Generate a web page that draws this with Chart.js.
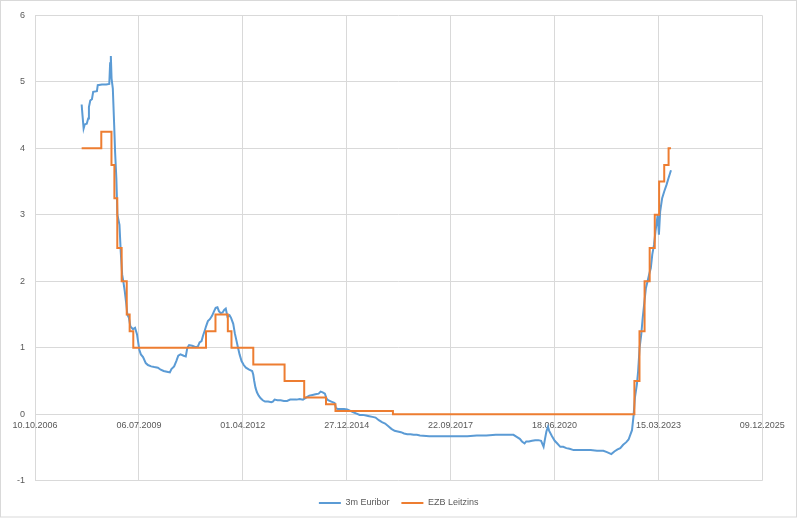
<!DOCTYPE html>
<html>
<head>
<meta charset="utf-8">
<title>3m Euribor und EZB Leitzins</title>
<script src="https://cdn.jsdelivr.net/npm/chart.js@4/dist/chart.umd.min.js"></script>
<style>
  html, body { margin: 0; padding: 0; background: #fff; }
  #wrap { width: 798px; height: 520px; }
</style>
</head>
<body>
<div id="wrap"><canvas id="chart" width="798" height="520"></canvas></div>
<script>
// Date axis labels (one every 1000 days) and value axis ticks
const xTickLabels = ['10.10.2006', '06.07.2009', '01.04.2012', '27.12.2014',
                     '22.09.2017', '18.06.2020', '15.03.2023', '09.12.2025'];
const yTickValues = [-1, 0, 1, 2, 3, 4, 5, 6];

// 3-month Euribor, percent
const euriborDates = [
  '2008-01-02','2008-01-10','2008-01-21','2008-02-01','2008-02-20','2008-03-05','2008-03-12','2008-03-25',
  '2008-04-10','2008-04-22','2008-05-28','2008-06-05','2008-07-15','2008-08-25','2008-09-24','2008-10-02',
  '2008-10-09','2008-10-16','2008-10-28','2008-11-10','2008-11-19','2008-12-01','2008-12-11','2008-12-31',
  '2009-01-12','2009-01-26','2009-02-06','2009-02-20','2009-03-05','2009-03-17','2009-04-01','2009-04-15',
  '2009-05-10','2009-05-30','2009-06-18','2009-07-10','2009-07-25','2009-08-15','2009-09-10','2009-10-01',
  '2009-11-01','2009-12-01','2010-01-05','2010-02-01','2010-03-01','2010-04-01','2010-04-30','2010-05-15',
  '2010-06-10','2010-07-01','2010-07-20','2010-08-10','2010-09-10','2010-09-30','2010-10-15','2010-11-01',
  '2010-12-01','2011-01-05','2011-01-25','2011-02-10','2011-03-01','2011-03-15','2011-04-01','2011-04-15',
  '2011-05-01','2011-05-20','2011-06-10','2011-06-30','2011-07-15','2011-08-01','2011-08-15','2011-09-01',
  '2011-09-20','2011-10-05','2011-10-20','2011-11-05','2011-11-25','2011-12-10','2011-12-31','2012-01-15',
  '2012-02-01','2012-02-15','2012-03-01','2012-03-20','2012-04-10','2012-05-01','2012-06-01','2012-06-30',
  '2012-07-10','2012-07-20','2012-08-01','2012-08-15','2012-09-01','2012-09-20','2012-10-10','2012-11-01',
  '2012-12-01','2012-12-31','2013-01-15','2013-02-01','2013-03-01','2013-04-01','2013-05-01','2013-06-01',
  '2013-07-01','2013-08-01','2013-09-01','2013-10-01','2013-11-01','2013-12-01','2014-01-01','2014-02-01',
  '2014-03-01','2014-04-01','2014-04-20','2014-05-10','2014-05-31','2014-06-15','2014-07-01','2014-08-01',
  '2014-09-01','2014-09-15','2014-10-01','2014-11-01','2014-12-01','2015-01-01','2015-02-01','2015-03-01',
  '2015-04-01','2015-05-01','2015-06-01','2015-07-01','2015-08-01','2015-09-01','2015-10-01','2015-11-01',
  '2015-12-01','2016-01-01','2016-02-01','2016-03-01','2016-04-01','2016-05-01','2016-06-01','2016-07-01',
  '2016-08-01','2016-09-01','2016-10-01','2016-11-01','2016-12-01','2017-03-01','2017-06-01','2017-09-01',
  '2017-12-01','2018-03-01','2018-06-01','2018-09-01','2018-12-01','2019-03-01','2019-05-20','2019-06-20',
  '2019-07-20','2019-08-10','2019-09-04','2019-09-20','2019-10-15','2019-11-15','2019-12-15','2020-01-15',
  '2020-02-10','2020-03-05','2020-03-20','2020-04-01','2020-04-16','2020-04-28','2020-05-25','2020-06-20',
  '2020-07-15','2020-08-13','2020-09-10','2020-10-10','2020-11-10','2020-12-19','2021-02-01','2021-04-01',
  '2021-06-01','2021-08-01','2021-10-01','2021-11-05','2021-12-17','2022-01-15','2022-02-15','2022-03-13',
  '2022-04-10','2022-05-10','2022-06-01','2022-06-20','2022-07-04','2022-07-19','2022-08-01','2022-08-20',
  '2022-09-01','2022-09-15','2022-10-01','2022-10-15','2022-11-01','2022-11-15','2022-12-01','2022-12-15',
  '2023-01-01','2023-01-15','2023-02-01','2023-02-15','2023-03-08','2023-03-20','2023-04-01','2023-04-20',
  '2023-05-10','2023-06-01','2023-06-20','2023-07-14'
];
const euriborRates = [
  4.66, 4.50, 4.30, 4.36, 4.37, 4.45, 4.62, 4.72,
  4.74, 4.85, 4.86, 4.95, 4.96, 4.96, 4.97, 5.28,
  5.39, 5.05, 4.90, 4.35, 3.94, 3.55, 3.00, 2.85,
  2.45, 2.10, 2.00, 1.85, 1.68, 1.50, 1.45, 1.32,
  1.28, 1.30, 1.20, 0.97, 0.90, 0.86, 0.77, 0.74,
  0.72, 0.71, 0.70, 0.67, 0.65, 0.64, 0.63, 0.68,
  0.72, 0.80, 0.88, 0.90, 0.88, 0.87, 1.00, 1.04,
  1.03, 1.01, 1.02, 1.08, 1.10, 1.18, 1.26, 1.33,
  1.40, 1.43, 1.48, 1.55, 1.60, 1.61, 1.55, 1.52,
  1.53, 1.57, 1.59, 1.47, 1.49, 1.45, 1.36, 1.22,
  1.10, 1.00, 0.90, 0.80, 0.74, 0.70, 0.67, 0.65,
  0.60, 0.50, 0.40, 0.33, 0.28, 0.24, 0.21, 0.19,
  0.19, 0.18, 0.19, 0.22, 0.21, 0.21, 0.20, 0.20,
  0.22, 0.22, 0.22, 0.23, 0.22, 0.25, 0.28, 0.29,
  0.30, 0.31, 0.34, 0.33, 0.31, 0.24, 0.21, 0.19,
  0.17, 0.09, 0.08, 0.08, 0.08, 0.07, 0.05, 0.03,
  0.01, -0.01, -0.01, -0.02, -0.03, -0.04, -0.05, -0.09,
  -0.12, -0.14, -0.18, -0.22, -0.25, -0.26, -0.27, -0.29,
  -0.30, -0.30, -0.31, -0.31, -0.32, -0.33, -0.33, -0.33,
  -0.33, -0.33, -0.32, -0.32, -0.31, -0.31, -0.31, -0.34,
  -0.37, -0.41, -0.44, -0.41, -0.41, -0.40, -0.39, -0.39,
  -0.40, -0.49, -0.36, -0.26, -0.19, -0.25, -0.33, -0.40,
  -0.44, -0.49, -0.49, -0.51, -0.52, -0.54, -0.54, -0.54,
  -0.54, -0.55, -0.55, -0.57, -0.60, -0.56, -0.53, -0.51,
  -0.46, -0.42, -0.38, -0.30, -0.24, -0.02, 0.25, 0.45,
  0.65, 1.00, 1.20, 1.45, 1.70, 1.90, 2.00, 2.10,
  2.20, 2.40, 2.55, 2.75, 3.00, 2.70, 3.05, 3.25,
  3.35, 3.45, 3.55, 3.67
];

// ECB main refinancing rate, percent, with the date each level took effect
const leitzinsDates = [
  '2008-01-02','2008-07-09','2008-10-15','2008-11-12','2008-12-10','2009-01-21','2009-03-11','2009-04-08',
  '2009-05-13','2011-04-13','2011-07-13','2011-11-09','2011-12-14','2012-07-11','2013-05-08','2013-11-13',
  '2014-06-11','2014-09-10','2016-03-16','2022-07-27','2022-09-14','2022-11-02','2022-12-21','2023-02-08',
  '2023-03-22','2023-05-10','2023-06-21','2023-07-14'
];
const leitzinsRates = [
  4.00, 4.25, 3.75, 3.25, 2.50, 2.00, 1.50, 1.25,
  1.00, 1.25, 1.50, 1.25, 1.00, 0.75, 0.50, 0.25,
  0.15, 0.05, 0.00, 0.50, 1.25, 2.00, 2.50, 3.00,
  3.50, 3.75, 4.00, 4.00
];

// Dates are placed on a linear axis counted in days from the first axis label
const parseDe = s => { const [d, m, y] = s.split('.').map(Number); return Date.UTC(y, m - 1, d); };
const parseIso = s => { const [y, m, d] = s.split('-').map(Number); return Date.UTC(y, m - 1, d); };
const origin = parseDe(xTickLabels[0]);
const DAY = 86400000;
const dayOf = ms => Math.round((ms - origin) / DAY);
const xTickDays = xTickLabels.map(s => dayOf(parseDe(s)));

const toPoints = (dates, rates) => dates.map((d, i) => ({ x: dayOf(parseIso(d)), y: rates[i] }));

const FONT = { family: '"Liberation Sans", Arial, sans-serif', size: 9 };
const TEXT = '#595959';
const GRID = '#d9d9d9';

// white page with the thin outer chart frame
const framePlugin = {
  id: 'frame',
  beforeDraw(chart) {
    const { ctx, width } = chart;
    ctx.save();
    ctx.fillStyle = '#ffffff';
    ctx.fillRect(0, 0, width, chart.height);
    ctx.strokeStyle = GRID;
    ctx.lineWidth = 1;
    ctx.strokeRect(0.5, 0.5, width - 2, 516.5);
    ctx.restore();
  }
};

new Chart(document.getElementById('chart'), {
  type: 'line',
  data: {
    datasets: [
      {
        label: '3m Euribor',
        data: toPoints(euriborDates, euriborRates),
        borderColor: '#5b9bd5',
        backgroundColor: '#5b9bd5',
        borderWidth: 2,
        pointRadius: 0,
        tension: 0,
        order: 2
      },
      {
        label: 'EZB Leitzins',
        data: toPoints(leitzinsDates, leitzinsRates),
        borderColor: '#ed7d31',
        backgroundColor: '#ed7d31',
        borderWidth: 2,
        pointRadius: 0,
        stepped: 'before',
        order: 1
      }
    ]
  },
  options: {
    responsive: false,
    devicePixelRatio: 1,
    animation: false,
    events: [],
    layout: { padding: { left: 0, right: 35.7, top: 12.3, bottom: 2.5 } },
    scales: {
      x: {
        type: 'linear',
        position: { y: 0 },
        min: xTickDays[0],
        max: xTickDays[xTickDays.length - 1],
        afterBuildTicks: scale => { scale.ticks = xTickDays.map(v => ({ value: v })); },
        grid: { color: GRID, lineWidth: 1, drawTicks: false },
        border: { display: false },
        ticks: {
          autoSkip: false,
          maxRotation: 0,
          minRotation: 0,
          padding: 6,
          color: TEXT,
          font: FONT,
          callback: (value, index) => xTickLabels[index]
        }
      },
      y: {
        type: 'linear',
        min: yTickValues[0],
        max: yTickValues[yTickValues.length - 1],
        afterBuildTicks: scale => { scale.ticks = yTickValues.map(v => ({ value: v })); },
        afterFit: scale => { scale.width = 35; },
        grid: { color: GRID, lineWidth: 1, drawTicks: false },
        border: { display: false },
        ticks: { padding: 10, color: TEXT, font: FONT }
      }
    },
    plugins: {
      tooltip: { enabled: false },
      legend: {
        position: 'bottom',
        fullSize: false,
        title: { display: true, text: '', padding: 0, font: { size: 5.8, lineHeight: 1 } },
        labels: {
          usePointStyle: true,
          pointStyle: 'line',
          pointStyleWidth: 22,
          padding: 12,
          color: TEXT,
          font: FONT,
          sort: (a, b) => a.datasetIndex - b.datasetIndex
        }
      }
    }
  },
  plugins: [framePlugin]
});
</script>
</body>
</html>
